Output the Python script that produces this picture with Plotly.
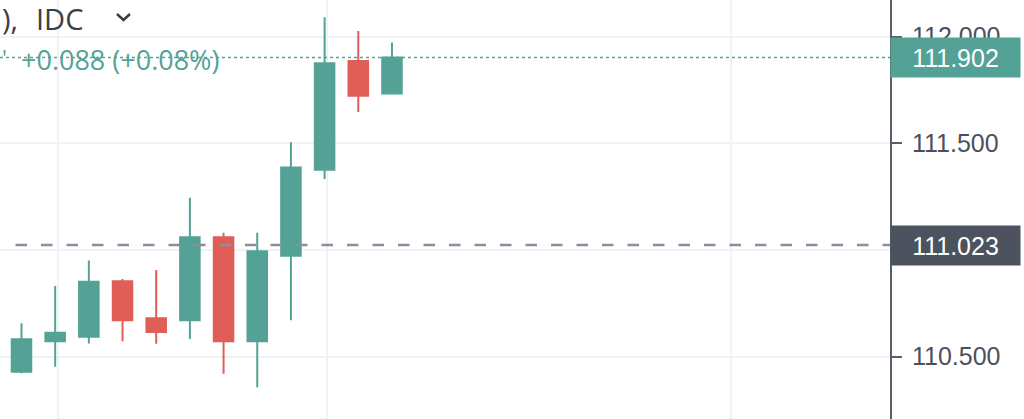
import plotly.graph_objects as go

# ---- data ----
bars = list(range(12))
open_ = [110.429, 110.572, 110.593, 110.853, 110.680, 110.670, 111.059, 110.572, 110.973, 111.376, 111.886, 111.734]
high = [110.656, 110.831, 110.950, 110.864, 110.906, 111.245, 111.081, 111.081, 111.505, 112.091, 112.026, 111.972]
low = [110.422, 110.453, 110.562, 110.572, 110.560, 110.583, 110.420, 110.356, 110.670, 111.333, 111.647, 111.734]
close = [110.581, 110.612, 110.851, 110.670, 110.615, 111.059, 110.572, 110.994, 111.386, 111.875, 111.723, 111.902]

y_ticks = [110.5, 111.0, 111.5, 112.0]
y_tick_labels = ["110.500", "111.000", "111.500", "112.000"]
x_grid = [1.08, 9.08, 21.08]

last_price = 111.902
ref_price = 111.023
title_head = "),"
title_tail = "IDC"
change_text = "+0.088 (+0.08%)"

# ---- style ----
W, H = 1024, 419
PW = 890  # plot width in px
GREEN = "#53a295"
RED = "#df5f58"
GRID = "#eff2f7"
AXIS = "#5a5e69"
TEXT = "#4c505b"

def px(x):
    return x / PW

def py(y):
    return 1 - y / H

fig = go.Figure(go.Candlestick(
    x=bars, open=open_, high=high, low=low, close=close,
    increasing=dict(line=dict(color=GREEN, width=2), fillcolor=GREEN),
    decreasing=dict(line=dict(color=RED, width=2), fillcolor=RED),
    whiskerwidth=0, hoverinfo="skip", showlegend=False,
))

fig.update_layout(
    width=W, height=H,
    margin=dict(l=0, r=W - PW, t=0, b=0),
    paper_bgcolor="white", plot_bgcolor="white",
    boxgap=0.42, boxgroupgap=0,
    xaxis=dict(range=[-0.638, 25.787], rangeslider=dict(visible=False),
               showticklabels=False, tickvals=x_grid, showgrid=True,
               gridcolor=GRID, gridwidth=1.5, zeroline=False, showline=False),
    yaxis=dict(range=[110.2075, 112.1718], side="right", tickvals=y_ticks,
               ticktext=y_tick_labels, showgrid=True, gridcolor=GRID, gridwidth=1.5,
               zeroline=False, showline=True, linecolor=AXIS, linewidth=2,
               ticks="outside", ticklen=10, tickwidth=2, tickcolor=AXIS,
               ticklabelstandoff=5,
               tickfont=dict(family="Liberation Sans, Arial", size=25, color=TEXT)),
    font=dict(family="Open Sans"),
)

# price lines
fig.add_shape(type="line", xref="paper", yref="y", x0=0, x1=1,
              y0=last_price, y1=last_price, line=dict(color=GREEN, width=1.5, dash="dot"))
fig.add_shape(type="line", xref="paper", yref="y", x0=px(15.5), x1=1,
              y0=ref_price, y1=ref_price, line=dict(color="#8a8f9b", width=2.5, dash="11.5px,14px"))

# price labels on the axis
for val, bg in [(last_price, GREEN), (ref_price, "#4c525e")]:
    fig.add_annotation(xref="paper", yref="y", x=1, y=val, xanchor="left", yanchor="middle",
                       text=f"{val:.3f}", showarrow=False, bgcolor=bg, width=127, height=37,
                       borderpad=1, align="center",
                       font=dict(family="Liberation Sans, Arial", size=25, color="white"))

# legend texts
fig.add_annotation(xref="paper", yref="paper", x=px(0), y=py(18), xanchor="left", yanchor="middle",
                   text=title_head, showarrow=False,
                   font=dict(family="Open Sans", size=29, color="#3b3e48"))
fig.add_annotation(xref="paper", yref="paper", x=px(34), y=py(18), xanchor="left", yanchor="middle",
                   text=title_tail, showarrow=False,
                   font=dict(family="Open Sans", size=29, color="#3b3e48"))
fig.add_annotation(xref="paper", yref="paper", x=px(19), y=py(59), xanchor="left", yanchor="middle",
                   text=change_text, showarrow=False,
                   font=dict(family="Open Sans", size=27, color=GREEN))
fig.add_annotation(xref="paper", yref="paper", x=px(0), y=py(57), xanchor="left", yanchor="middle",
                   text="'", showarrow=False,
                   font=dict(family="Open Sans", size=22, color=GREEN))
# dropdown chevron
fig.add_shape(type="path", xref="paper", yref="paper",
              path=f"M {px(117)} {py(14)} L {px(123.5)} {py(20)} L {px(130)} {py(14)}",
              line=dict(color="#3b3e48", width=2.5))

fig.write_html("out.html", config={"displayModeBar": False},
               post_script="document.body.style.margin='0';")
